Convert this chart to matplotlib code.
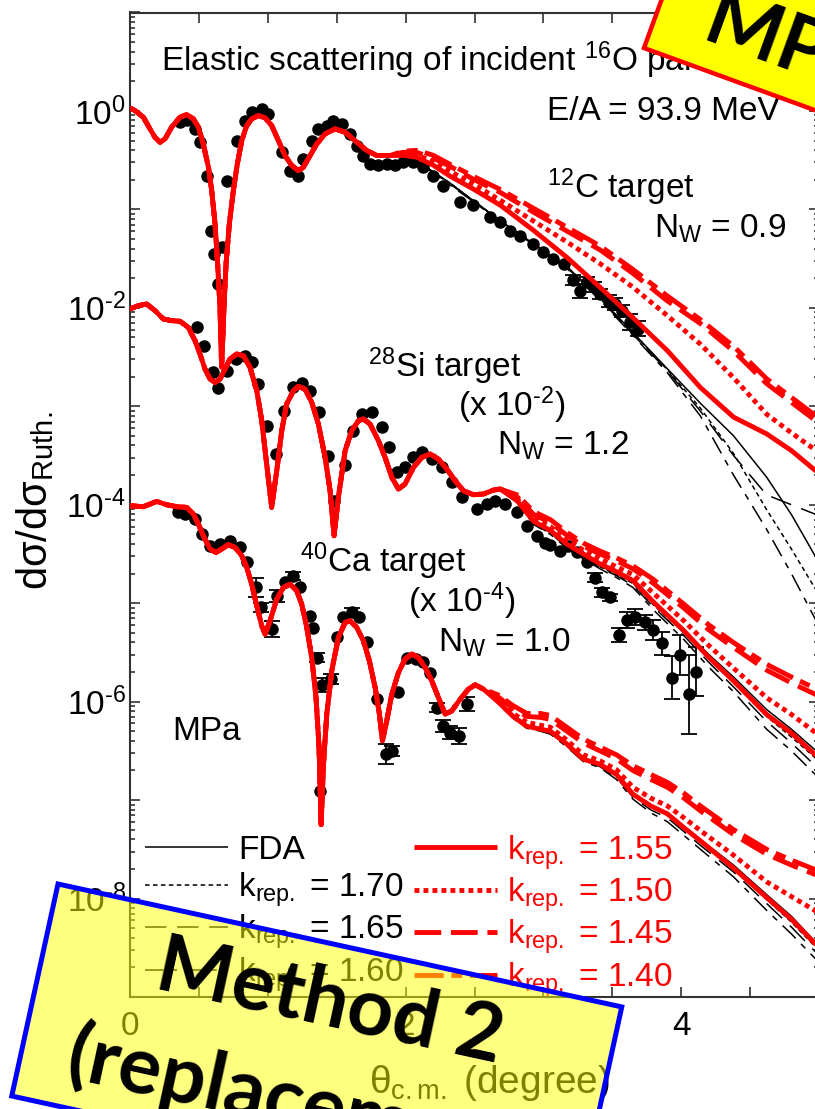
import numpy as np
import matplotlib
matplotlib.use("Agg")
import matplotlib.pyplot as plt
from matplotlib.patches import Polygon
from matplotlib.lines import Line2D
from matplotlib.ticker import LogLocator, FuncFormatter, NullFormatter, MultipleLocator

plt.rcParams['font.family'] = ['Liberation Sans', 'DejaVu Sans']
plt.rcParams['mathtext.fontset'] = 'custom'
plt.rcParams['mathtext.rm'] = 'Liberation Sans'
plt.rcParams['mathtext.it'] = 'Liberation Sans:italic'

W, H = 815, 1109

# ---- 12C target: log10(dsigma/dsigma_R) vs theta_cm (deg) ----
c12_front_theta = [0.0, 0.036, 0.097, 0.145, 0.181, 0.218, 0.254, 0.302, 0.363, 0.411, 0.46, 0.496,
                   0.532, 0.569, 0.593, 0.617, 0.636, 0.653, 0.665, 0.682, 0.697, 0.721, 0.75, 0.779,
                   0.811, 0.847, 0.883, 0.932, 0.98, 1.028, 1.077, 1.125, 1.174, 1.222, 1.258, 1.307,
                   1.355, 1.416, 1.488, 1.561, 1.646, 1.718, 1.791, 1.887]
c12_front_log = [0.03, 0.004, -0.064, -0.182, -0.267, -0.318, -0.284, -0.165, -0.064, -0.037, -0.081, -0.165,
                 -0.335, -0.572, -0.809, -1.147, -1.554, -1.995, -2.6, -1.995, -1.554, -1.147, -0.809, -0.538,
                 -0.301, -0.148, -0.081, -0.047, -0.07, -0.148, -0.301, -0.453, -0.555, -0.606, -0.572, -0.453,
                 -0.335, -0.233, -0.182, -0.216, -0.318, -0.402, -0.453, -0.453]
c12_tail_theta = [1.98, 2.08, 2.20, 2.32, 2.50, 2.69, 2.93, 3.17, 3.41, 3.65, 3.90, 4.14, 4.38, 4.62, 4.80, 4.98]
c12_k155 = [-0.45, -0.47, -0.55, -0.66, -0.80, -0.96, -1.215, -1.487, -1.79, -2.10, -2.435, -2.81, -3.11, -3.28, -3.45, -3.66]
c12_k150 = [-0.44, -0.45, -0.51, -0.61, -0.75, -0.91, -1.12, -1.33, -1.55, -1.79, -2.08, -2.37, -2.71, -3.08, -3.27, -3.45]
c12_k145 = [-0.42, -0.42, -0.48, -0.56, -0.70, -0.83, -1.03, -1.22, -1.41, -1.65, -1.93, -2.16, -2.44, -2.77, -2.96, -3.15]
c12_k140 = [-0.41, -0.40, -0.45, -0.54, -0.67, -0.80, -0.99, -1.18, -1.37, -1.61, -1.88, -2.12, -2.39, -2.72, -2.91, -3.10]
c12_fda = [-0.46, -0.50, -0.62, -0.73, -0.92, -1.12, -1.35, -1.58, -1.90, -2.25, -2.62, -2.97, -3.30, -3.72, -4.10, -4.54]
c12_k170 = [-0.46, -0.50, -0.62, -0.73, -0.92, -1.12, -1.35, -1.58, -1.90, -2.26, -2.63, -3.02, -3.48, -4.05, -4.45, -4.87]
c12_k165 = [-0.46, -0.50, -0.62, -0.74, -0.92, -1.12, -1.35, -1.59, -1.91, -2.27, -2.64, -3.05, -3.50, -3.90, -4.00, -4.10]
c12_k160 = [-0.46, -0.51, -0.63, -0.75, -0.93, -1.13, -1.36, -1.60, -1.92, -2.28, -2.66, -3.10, -3.70, -4.25, -4.70, -5.18]

c12_data_theta = [0.363, 0.416, 0.472, 0.508, 0.557, 0.586, 0.610, 0.641, 0.670, 0.707, 0.774, 0.835, 0.883, 0.956,
                  1.004, 1.101, 1.162, 1.222, 1.258, 1.319, 1.367, 1.428, 1.476, 1.537, 1.597, 1.646, 1.694, 1.742,
                  1.803, 1.863, 1.924, 1.984, 2.057, 2.129, 2.200, 2.275, 2.396, 2.490, 2.613, 2.686, 2.759, 2.830,
                  2.928, 3.000, 3.073, 3.146, 3.218, 3.267, 3.315, 3.364, 3.412, 3.473, 3.520, 3.570, 3.625, 3.683]
c12_data_log = [-0.115, -0.091, -0.182, -0.318, -0.657, -1.215, -1.452, -1.757, -1.385, -0.707, -0.301, -0.098,
                -0.013, 0.021, -0.030, -0.419, -0.606, -0.657, -0.487, -0.301, -0.182, -0.148, -0.098, -0.131,
                -0.233, -0.352, -0.453, -0.538, -0.545, -0.538, -0.545, -0.521, -0.521, -0.572, -0.660, -0.758,
                -0.928, -0.960, -1.080, -1.130, -1.215, -1.266, -1.350, -1.436, -1.503, -1.554, -1.720, -1.825,
                -1.740, -1.790, -1.860, -1.927, -1.960, -2.030, -2.147, -2.210]
c12_data_err = [0.02] * 46 + [0.05, 0.07, 0.05, 0.05, 0.05, 0.06, 0.06, 0.06, 0.08, 0.08]

# ---- 28Si target (x 1e-2) ----
si_front_theta = [0, 0.060, 0.121, 0.181, 0.242, 0.302, 0.363, 0.423, 0.472, 0.508, 0.544, 0.581, 0.617, 0.653,
                  0.690, 0.726, 0.774, 0.823, 0.871, 0.920, 0.956, 0.992, 1.028, 1.065, 1.101, 1.137, 1.186, 1.222,
                  1.270, 1.319, 1.367, 1.416, 1.452, 1.481, 1.512, 1.561, 1.609, 1.658, 1.694, 1.742, 1.803, 1.851,
                  1.900, 1.948, 1.996, 2.057, 2.117, 2.178, 2.238, 2.299, 2.359, 2.420, 2.492, 2.565, 2.638, 2.686]
si_front_log = [-2.011, -1.978, -1.961, -2.028, -2.113, -2.130, -2.137, -2.198, -2.333, -2.469, -2.621, -2.723,
                -2.757, -2.723, -2.621, -2.519, -2.469, -2.486, -2.605, -2.841, -3.146, -3.587, -4.027, -3.654,
                -3.248, -2.977, -2.841, -2.798, -2.824, -2.96, -3.18, -3.519, -3.858, -4.315, -3.926, -3.451,
                -3.248, -3.146, -3.129, -3.18, -3.35, -3.519, -3.722, -3.84, -3.79, -3.621, -3.519, -3.485,
                -3.536, -3.637, -3.756, -3.858, -3.898, -3.891, -3.851, -3.84]
si_tail_theta = [2.81, 2.93, 3.05, 3.17, 3.29, 3.41, 3.53, 3.65, 3.80, 4.02, 4.20, 4.38, 4.62, 4.80, 4.98]
si_k155 = [-3.96, -4.17, -4.26, -4.40, -4.50, -4.60, -4.68, -4.77, -4.99, -5.28, -5.55, -5.79, -6.13, -6.32, -6.55]
si_k150 = [-3.94, -4.13, -4.22, -4.36, -4.46, -4.55, -4.63, -4.71, -4.90, -5.18, -5.43, -5.66, -5.96, -6.13, -6.32]
si_k145 = [-3.92, -4.10, -4.18, -4.31, -4.42, -4.50, -4.57, -4.65, -4.80, -5.05, -5.27, -5.45, -5.68, -5.81, -5.93]
si_k140 = [-3.90, -4.07, -4.15, -4.28, -4.39, -4.47, -4.54, -4.62, -4.76, -5.01, -5.22, -5.40, -5.62, -5.75, -5.87]
si_fda = [-3.97, -4.19, -4.28, -4.42, -4.52, -4.62, -4.70, -4.79, -5.00, -5.27, -5.52, -5.75, -6.08, -6.28, -6.50]
si_k170 = [-3.97, -4.19, -4.28, -4.42, -4.53, -4.63, -4.71, -4.80, -5.02, -5.30, -5.56, -5.80, -6.15, -6.36, -6.58]
si_k165 = [-3.98, -4.20, -4.29, -4.43, -4.54, -4.64, -4.72, -4.82, -5.04, -5.33, -5.60, -5.85, -6.20, -6.42, -6.66]
si_k160 = [-3.98, -4.20, -4.30, -4.44, -4.55, -4.65, -4.74, -4.84, -5.07, -5.37, -5.65, -5.90, -6.28, -6.50, -6.75]

si_data_theta = [0.484, 0.537, 0.600, 0.641, 0.707, 0.770, 0.835, 0.888, 0.932, 0.992, 1.057, 1.120, 1.186, 1.246,
                 1.307, 1.374, 1.440, 1.481, 1.561, 1.621, 1.682, 1.754, 1.827, 1.883, 1.936, 1.996, 2.057, 2.117,
                 2.190, 2.263, 2.335, 2.408, 2.517, 2.589, 2.650, 2.722, 2.807, 2.880, 2.952, 3.013, 3.050, 3.122,
                 3.182, 3.247, 3.315, 3.376, 3.424, 3.485, 3.552, 3.606, 3.666, 3.739, 3.794, 3.860, 3.932, 3.988,
                 4.053, 4.109]
si_data_log = [-2.191, -2.384, -2.648, -2.817, -2.638, -2.519, -2.486, -2.553, -2.773, -3.197, -3.485, -3.052,
               -2.807, -2.767, -2.841, -3.062, -3.502, -3.959, -3.594, -3.248, -3.079, -3.062, -3.214, -3.417,
               -3.671, -3.621, -3.519, -3.468, -3.536, -3.621, -3.773, -3.926, -4.044, -3.993, -3.959, -3.993,
               -4.078, -4.213, -4.315, -4.393, -4.410, -4.467, -4.417, -4.485, -4.586, -4.739, -4.891, -4.942,
               -5.321, -5.172, -5.138, -5.196, -5.273, -5.409, -5.755, -5.527, -5.924, -5.694]
si_data_err = [0.02] * 45 + [0.05, 0.05, 0.04, 0.07, 0.08, 0.08, 0.08, 0.10, 0.12, 0.22, 0.20, 0.40, 0.25]

# ---- 40Ca target (x 1e-4) ----
ca_front_theta = [0, 0.097, 0.194, 0.266, 0.339, 0.411, 0.460, 0.496, 0.532, 0.581, 0.624, 0.665, 0.714, 0.762,
                  0.811, 0.847, 0.883, 0.920, 0.956, 0.980, 1.016, 1.065, 1.113, 1.162, 1.210, 1.246, 1.283, 1.319,
                  1.350, 1.372, 1.387, 1.404, 1.428, 1.464, 1.512, 1.561, 1.597, 1.646, 1.694, 1.737, 1.779, 1.810,
                  1.832, 1.863, 1.900, 1.948, 1.996, 2.045, 2.093, 2.142, 2.190, 2.238, 2.287, 2.335, 2.396, 2.456,
                  2.505, 2.565]
ca_front_log = [-4.010, -4.020, -3.966, -4.000, -4.020, -4.027, -4.095, -4.196, -4.315, -4.450, -4.485, -4.450,
                -4.406, -4.434, -4.518, -4.637, -4.806, -5.026, -5.230, -5.314, -5.179, -4.958, -4.840, -4.806,
                -4.874, -5.009, -5.247, -5.552, -5.958, -6.466, -7.25, -6.635, -6.127, -5.687, -5.349, -5.196,
                -5.179, -5.247, -5.382, -5.585, -5.857, -6.127, -6.398, -6.195, -5.924, -5.705, -5.568, -5.517,
                -5.552, -5.653, -5.789, -5.958, -6.127, -6.094, -5.975, -5.873, -5.829, -5.873]
ca_tail_theta = [2.67, 2.78, 2.88, 2.98, 3.05, 3.17, 3.29, 3.41, 3.53, 3.65, 3.78, 3.90, 4.02, 4.14, 4.38, 4.62, 4.80, 4.98]
ca_k155 = [-6.00, -6.15, -6.25, -6.28, -6.30, -6.43, -6.585, -6.635, -6.74, -6.94, -7.06, -7.14, -7.28, -7.415, -7.69, -7.99, -8.21, -8.47]
ca_k150 = [-5.98, -6.12, -6.21, -6.24, -6.26, -6.39, -6.54, -6.60, -6.69, -6.87, -6.98, -7.06, -7.18, -7.31, -7.56, -7.83, -7.98, -8.13]
ca_k145 = [-5.95, -6.07, -6.15, -6.16, -6.18, -6.30, -6.42, -6.50, -6.58, -6.70, -6.79, -6.87, -6.98, -7.11, -7.35, -7.55, -7.66, -7.76]
ca_k140 = [-5.93, -6.04, -6.12, -6.12, -6.14, -6.26, -6.38, -6.46, -6.54, -6.65, -6.74, -6.82, -6.93, -7.06, -7.30, -7.50, -7.61, -7.71]
ca_fda = [-6.01, -6.16, -6.26, -6.29, -6.31, -6.44, -6.59, -6.64, -6.74, -6.93, -7.05, -7.13, -7.27, -7.40, -7.66, -7.96, -8.18, -8.45]
ca_k170 = [-6.01, -6.16, -6.26, -6.29, -6.31, -6.44, -6.59, -6.65, -6.75, -6.95, -7.07, -7.15, -7.29, -7.43, -7.70, -8.01, -8.24, -8.50]
ca_k165 = [-6.01, -6.16, -6.27, -6.30, -6.32, -6.45, -6.60, -6.66, -6.77, -6.97, -7.10, -7.18, -7.32, -7.46, -7.73, -8.05, -8.29, -8.55]
ca_k160 = [-6.02, -6.17, -6.27, -6.30, -6.33, -6.46, -6.61, -6.67, -6.79, -6.99, -7.13, -7.22, -7.36, -7.50, -7.78, -8.12, -8.36, -8.62]

ca_data_theta = [0.351, 0.399, 0.472, 0.520, 0.581, 0.653, 0.726, 0.799, 0.852, 0.915, 0.951, 1.028, 1.065, 1.125,
                 1.181, 1.234, 1.307, 1.331, 1.360, 1.379, 1.396, 1.457, 1.500, 1.549, 1.609, 1.665, 1.723, 1.796,
                 1.858, 1.900, 1.948, 2.013, 2.076, 2.129, 2.178, 2.226, 2.275, 2.323, 2.384, 2.449]
ca_data_log = [-4.078, -4.095, -4.146, -4.298, -4.417, -4.400, -4.366, -4.434, -4.586, -4.840, -5.043, -5.264,
               -4.925, -4.789, -4.722, -4.840, -5.128, -5.247, -5.552, -6.906, -5.829, -5.772, -5.348, -5.145,
               -5.094, -5.145, -5.399, -5.975, -6.534, -6.500, -5.907, -5.552, -5.568, -5.602, -5.704, -6.060,
               -6.246, -6.314, -6.348, -6.026]
ca_data_err = [0.02, 0.02, 0.02, 0.02, 0.02, 0.02, 0.02, 0.02, 0.02, 0.10, 0.05, 0.08, 0.06, 0.02, 0.04, 0.02,
               0.02, 0.02, 0.05, 0.02, 0.07, 0.05, 0.02, 0.02, 0.05, 0.02, 0.02, 0.02, 0.10, 0.05, 0.02, 0.02,
               0.02, 0.02, 0.02, 0.05, 0.06, 0.07, 0.08, 0.07]

curve_keys = ['fda', 'k170', 'k165', 'k160', 'k155', 'k150', 'k145', 'k140']
curve_labels = ['FDA', r'k$_{\mathregular{rep.}}$ = 1.70', r'k$_{\mathregular{rep.}}$ = 1.65',
                r'k$_{\mathregular{rep.}}$ = 1.60', r'k$_{\mathregular{rep.}}$ = 1.55',
                r'k$_{\mathregular{rep.}}$ = 1.50', r'k$_{\mathregular{rep.}}$ = 1.45',
                r'k$_{\mathregular{rep.}}$ = 1.40']

RED = '#ff0000'
styles = {
    'fda':  dict(color='black', lw=1.1, ls='-', zorder=2),
    'k170': dict(color='black', lw=1.1, ls=(0, (3, 2.2)), zorder=2),
    'k165': dict(color='black', lw=1.1, ls=(0, (14, 7)), zorder=2),
    'k160': dict(color='black', lw=1.1, ls=(0, (12, 5, 4, 5)), zorder=2),
    'k155': dict(color=RED, lw=3.5, ls='-', zorder=4),
    'k150': dict(color=RED, lw=3.5, ls=(0, (1.0, 0.85)), zorder=4),
    'k145': dict(color=RED, lw=3.5, ls=(0, (5.5, 2.0)), zorder=4),
    'k140': dict(color=RED, lw=3.5, ls=(0, (6, 1.6, 2.2, 1.6)), zorder=4),
}

targets = [
    (c12_front_theta, c12_front_log, c12_tail_theta,
     dict(fda=c12_fda, k170=c12_k170, k165=c12_k165, k160=c12_k160,
          k155=c12_k155, k150=c12_k150, k145=c12_k145, k140=c12_k140),
     c12_data_theta, c12_data_log, c12_data_err),
    (si_front_theta, si_front_log, si_tail_theta,
     dict(fda=si_fda, k170=si_k170, k165=si_k165, k160=si_k160,
          k155=si_k155, k150=si_k150, k145=si_k145, k140=si_k140),
     si_data_theta, si_data_log, si_data_err),
    (ca_front_theta, ca_front_log, ca_tail_theta,
     dict(fda=ca_fda, k170=ca_k170, k165=ca_k165, k160=ca_k160,
          k155=ca_k155, k150=ca_k150, k145=ca_k145, k140=ca_k140),
     ca_data_theta, ca_data_log, ca_data_err),
]


def px(x, y):
    """pixel position (from top-left) -> figure fraction"""
    return x / W, 1 - y / H


fig = plt.figure(figsize=(W / 100, H / 100), dpi=100)
ax = fig.add_axes([130 / W, (H - 997) / H, 689 / W, 984.5 / H])

for front_t, front_l, tail_t, tails, d_t, d_l, d_e in targets:
    for key in curve_keys:
        th = np.concatenate([front_t, tail_t])
        lg = np.concatenate([front_l, tails[key]])
        ax.plot(th, 10.0 ** lg, solid_capstyle='butt', **styles[key])
    d_t = np.array(d_t)
    d_l = np.array(d_l)
    d_e = np.array(d_e)
    y = 10.0 ** d_l
    ax.plot(d_t, y, 'o', color='black', ms=8, zorder=3)
    # only bars longer than the dot itself are visible
    big = d_e >= 0.04
    yb = y[big]
    yerr = [yb - 10.0 ** (d_l[big] - d_e[big]), 10.0 ** (d_l[big] + d_e[big]) - yb]
    ax.errorbar(d_t[big], yb, yerr=yerr, fmt='none', ecolor='black', elinewidth=1.3,
                capsize=6, capthick=1.3, zorder=3)

ax.set_yscale('log')
ax.set_xlim(0, 5)
ax.set_ylim(1e-9, 10)

ax.xaxis.set_major_locator(MultipleLocator(0.5))
ax.xaxis.set_major_formatter(FuncFormatter(lambda v, p: '%d' % v if abs(v % 2) < 1e-6 else ''))
ax.yaxis.set_major_locator(LogLocator(base=10, numticks=30))


def ylab(v, p):
    e = int(round(np.log10(v)))
    if e % 2:
        return ''
    return r'10$^{\text{%d}}$' % e


ax.yaxis.set_major_formatter(FuncFormatter(ylab))
ax.yaxis.set_minor_locator(LogLocator(base=10, subs=np.arange(2, 10), numticks=30))
ax.yaxis.set_minor_formatter(NullFormatter())
ax.tick_params(which='both', direction='in', top=True, right=True, width=1.2, labelsize=24, color='#333333')
ax.tick_params(which='major', length=7)
ax.tick_params(which='minor', length=3.6)
ax.tick_params(axis='x', pad=10)
ax.tick_params(axis='y', pad=3)
for s in ax.spines.values():
    s.set_linewidth(1.5)
    s.set_color('#333333')

handles = [Line2D([], [], solid_capstyle='butt', **{k: v for k, v in styles[key].items() if k != 'zorder'})
           for key in curve_keys]
leg = ax.legend(handles, curve_labels, ncol=2, loc='upper left',
                bbox_to_anchor=((145 - 130) / 689, (997 - 833) / 984.5), frameon=False, fontsize=24,
                handlelength=2.5, handletextpad=0.3, columnspacing=0.3, labelspacing=0.12,
                borderpad=0, borderaxespad=0,
                labelcolor=['black'] * 4 + [RED] * 4)

# annotations
tkw = dict(fontsize=24, ha='left', va='baseline', zorder=3)
fig.text(*px(161, 71), r'Elastic scattering of incident $^{16}$O particles', **tkw)
fig.text(*px(547, 120), 'E/A = 93.9 MeV', **tkw)
fig.text(*px(547, 198), r'$^{12}$C target', **tkw)
fig.text(*px(654, 238), r'N$_{\mathregular{W}}$ = 0.9', **tkw)
fig.text(*px(368, 377), r'$^{28}$Si target', **tkw)
fig.text(*px(458, 416), r'(x 10$^{\text{-2}}$)', **tkw)
fig.text(*px(497, 455), r'N$_{\mathregular{W}}$ = 1.2', **tkw)
fig.text(*px(300, 572), r'$^{40}$Ca target', **tkw)
fig.text(*px(408, 612), r'(x 10$^{\text{-4}}$)', **tkw)
fig.text(*px(438, 652), r'N$_{\mathregular{W}}$ = 1.0', **tkw)
fig.text(*px(172, 740), 'MPa', **tkw)

fig.text(*px(35, 501), r'dσ/dσ$_{\mathregular{Ruth.}}$', fontsize=30, rotation=90,
         ha='center', va='center', zorder=3)
fig.text(*px(369, 1093), r'θ$_{\mathregular{c.m.}}$ (degree)', fontsize=28, ha='left', va='baseline', zorder=3)


def rotated_box(x0, y0, w, h, ang_deg):
    """corners of a box whose top-left corner is (x0, y0), tilted clockwise on screen"""
    a = np.radians(ang_deg)
    u = np.array([np.cos(a), np.sin(a)])
    v = np.array([-np.sin(a), np.cos(a)])
    p0 = np.array([x0, y0])
    pts = [p0, p0 + w * u, p0 + w * u + h * v, p0 + h * v]
    return [px(*p) for p in pts]


# "Method 2" sticker, lower left
box1 = Polygon(rotated_box(58, 884, 577, 217, 12.3), closed=True, transform=fig.transFigure,
               facecolor=(1, 1, 0, 0.5), edgecolor='#0000ff', lw=3.6, zorder=5)
fig.add_artist(box1)
fig.text(*px(330, 1003), 'Method 2', fontsize=58, fontweight='bold', family=['Lato', 'DejaVu Sans'],
         rotation=-12.3, rotation_mode='anchor', ha='center', va='center', zorder=6)
fig.text(*px(308, 1106), '(replacement)', fontsize=58, fontweight='bold', family=['Lato', 'DejaVu Sans'],
         rotation=-12.3, rotation_mode='anchor', ha='center', va='center', zorder=6)

# "MPa" sticker, top right (corner at lower-left, box extends up and right)
a2 = np.radians(20)
bl = np.array([644, 48])
u2 = np.array([np.cos(a2), np.sin(a2)])
up2 = np.array([np.sin(a2), -np.cos(a2)])
box2_pts = [px(*p) for p in [bl, bl + 420 * u2, bl + 420 * u2 + 300 * up2, bl + 300 * up2]]
box2 = Polygon(box2_pts, closed=True, transform=fig.transFigure,
               facecolor='#ffff00', edgecolor='#ff0000', lw=3.2, zorder=5)
fig.add_artist(box2)
fig.text(*px(700, 40), 'MPa', fontsize=58, fontweight='bold', family=['Lato', 'DejaVu Sans'],
         rotation=-20, rotation_mode='anchor', ha='left', va='baseline', zorder=6)

fig.savefig('out.png', dpi=100)
